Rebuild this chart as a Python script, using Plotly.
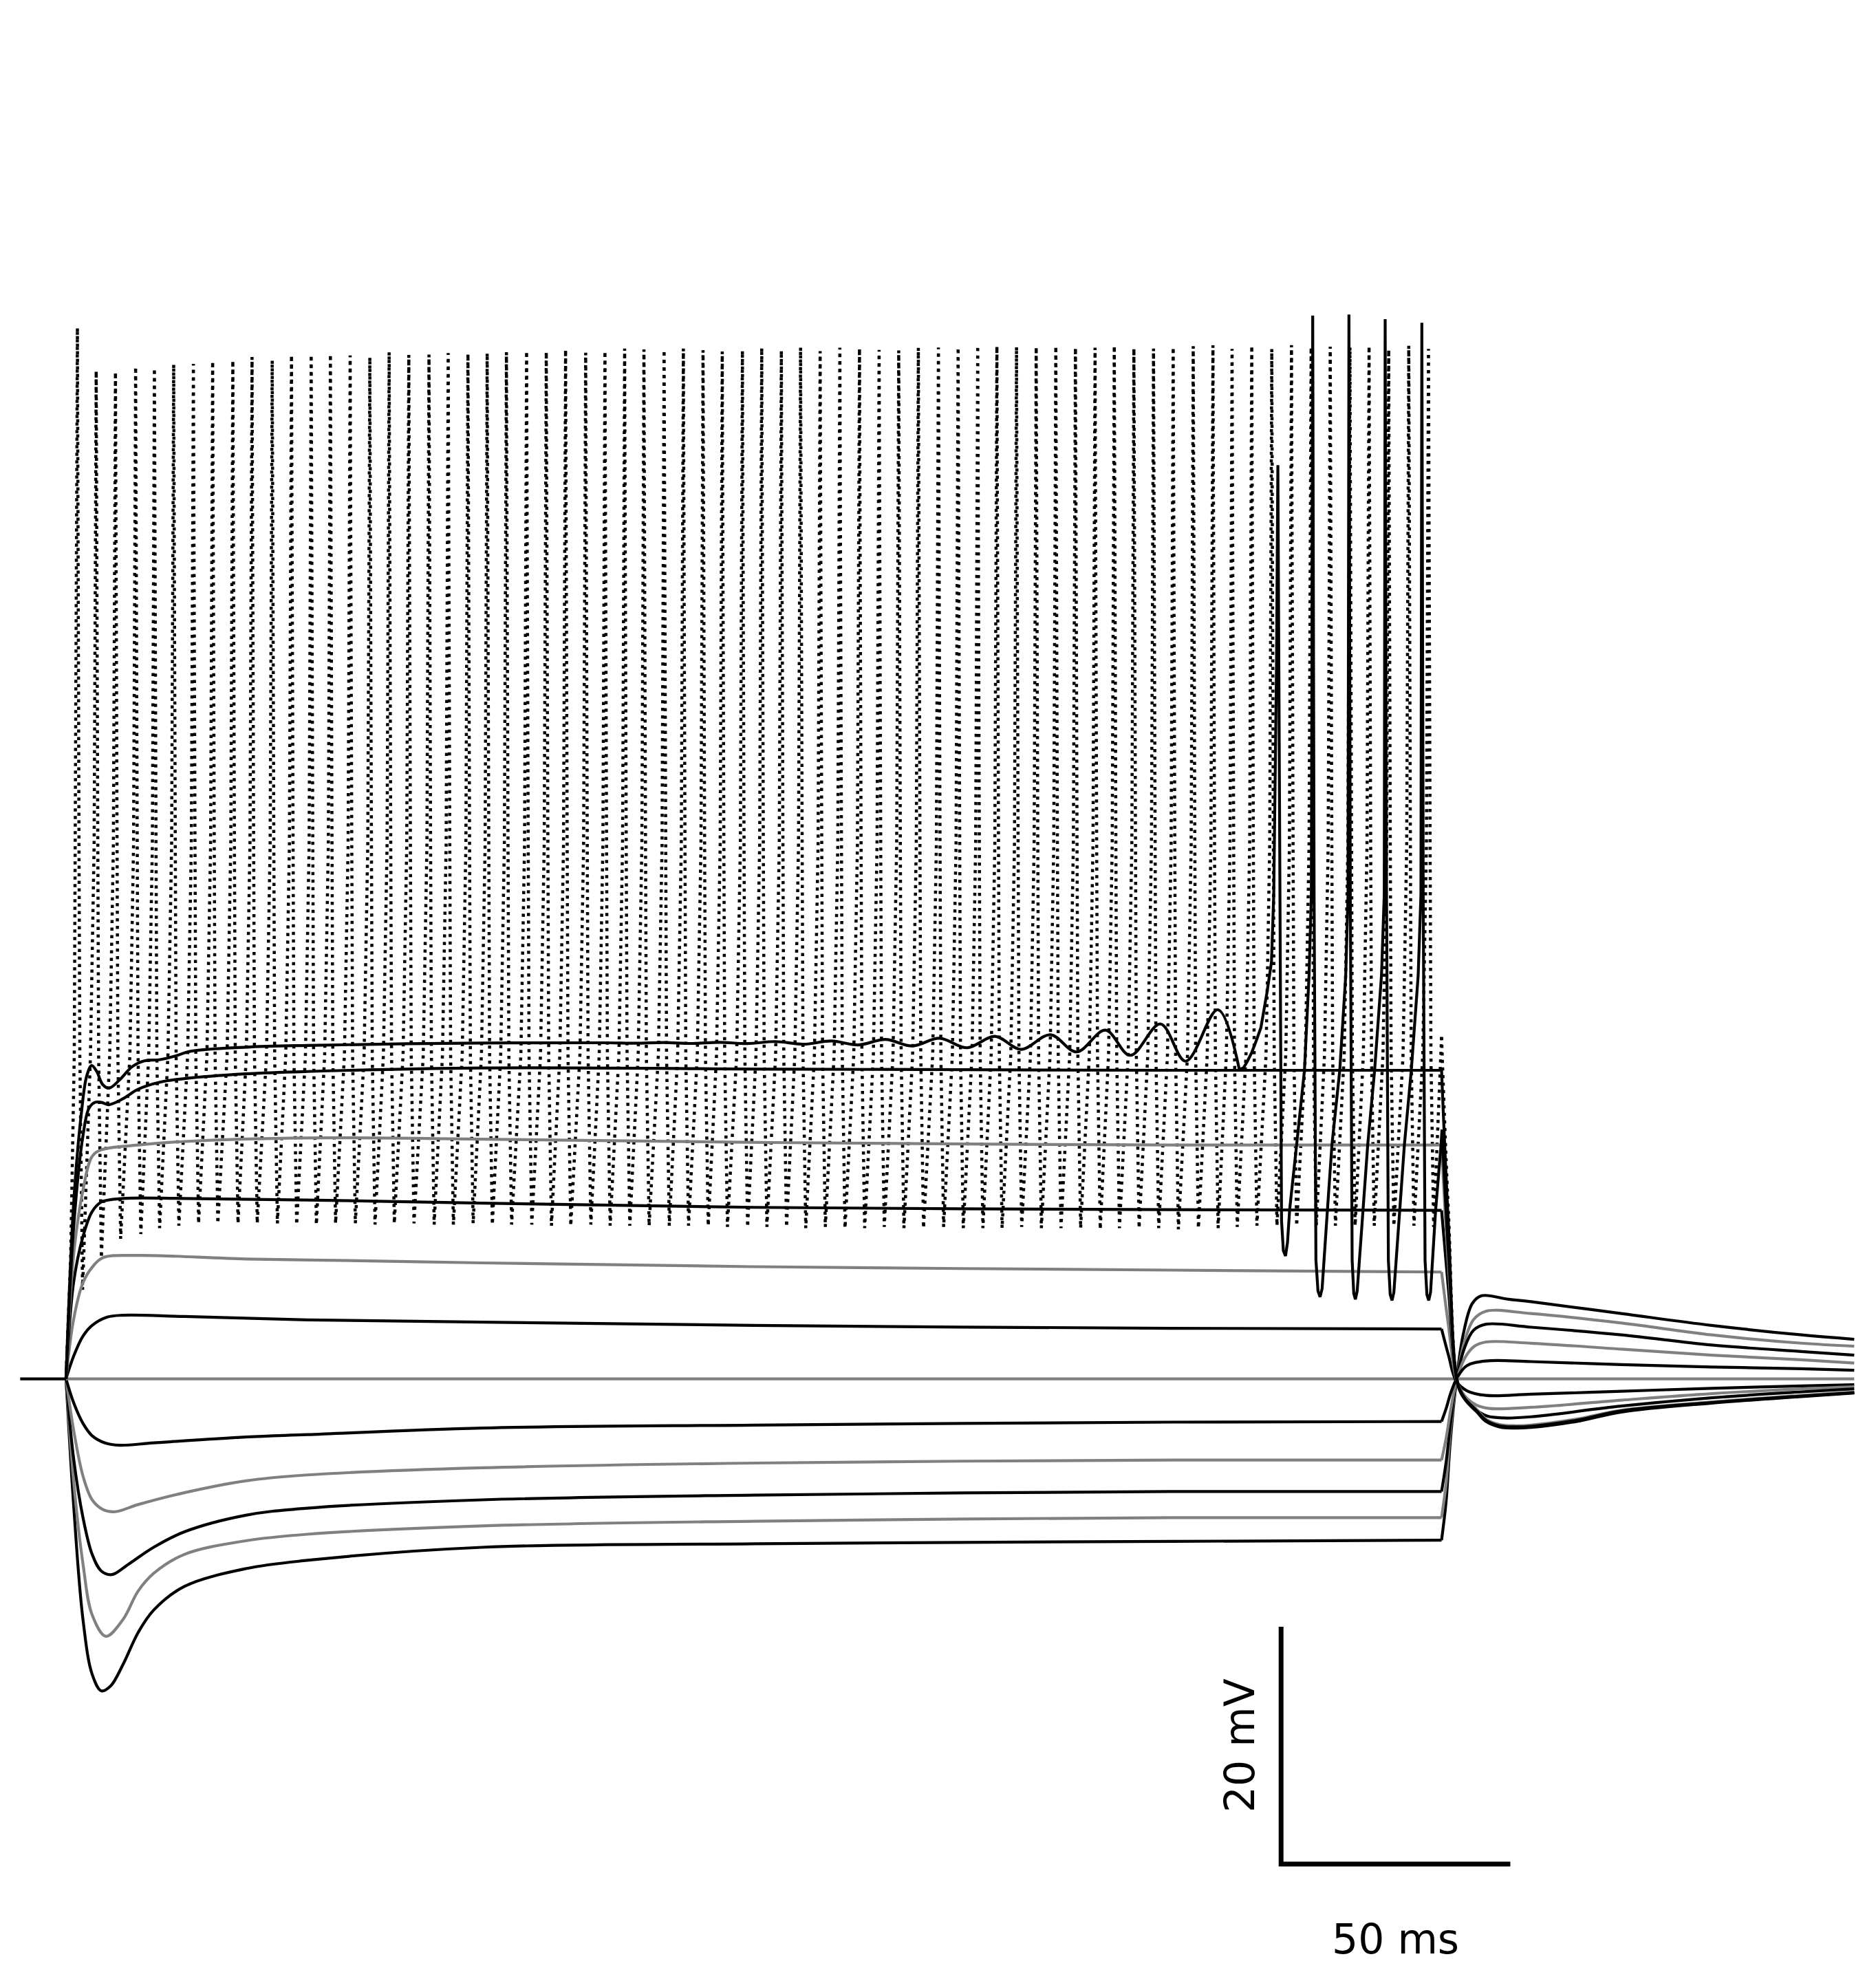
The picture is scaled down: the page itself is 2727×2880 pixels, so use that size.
import plotly.graph_objects as go

# ---------------- data (time in ms, voltage as deflection from rest in mV) ----------------
BLACK = "#000000"
GRAY = "#808080"

pre_t = [-10.0, 0.0]
pre_v = [0.0, 0.0]

# hyperpolarising steps
tr12_stim_t = [0, 1.65, 3.7, 5.7, 7.7, 9.7, 12.4, 15.7, 19.1, 25.8, 39.2, 52.6, 90.7, 150, 241, 300]
tr12_stim_v = [0, -10.6, -20.3, -24.9, -26.3, -25.9, -24.1, -21.4, -19.5, -17.5, -16.0, -15.3, -14.2, -13.9, -13.7, -13.6]
tr12_post_t = [300, 301, 301.9, 303.2, 304.7, 306.7, 308.7, 314.6, 319.5, 339.2, 358.9, 378.5, 390]
tr12_post_v = [-13.6, -10.3, -5.3, -0.3, 3.7, 6.35, 7.0, 6.7, 6.5, 5.5, 4.5, 3.7, 3.33]

tr11_stim_t = [0, 1.65, 3.7, 5.7, 8.7, 12.4, 15.7, 19.1, 25.8, 39.2, 52.6, 90.7, 150, 241, 300]
tr11_stim_v = [0, -8.6, -15.6, -19.9, -21.7, -20.3, -17.9, -16.4, -14.8, -13.65, -13.1, -12.4, -12.0, -11.7, -11.7]
tr11_post_t = [300, 301, 301.9, 303.2, 304.9, 307, 309.7, 319.5, 339.2, 358.9, 378.5, 390]
tr11_post_v = [-11.7, -8.8, -4.5, -0.3, 3.0, 5.0, 5.7, 5.5, 4.7, 3.7, 3.0, 2.75]

tr10_stim_t = [0, 1.65, 3.7, 5.7, 7.7, 10.0, 13.7, 19.1, 25.8, 39.2, 52.6, 90.7, 150, 241, 300]
tr10_stim_v = [0, -6.7, -11.7, -14.8, -16.2, -16.5, -15.6, -14.2, -12.9, -11.5, -10.9, -10.2, -9.8, -9.5, -9.5]
tr10_post_t = [300, 301, 302, 303.2, 305, 307, 309.7, 319.5, 339.2, 358.9, 378.5, 390]
tr10_post_v = [-9.5, -7.0, -3.6, -0.2, 2.6, 4.1, 4.6, 4.35, 3.7, 2.85, 2.3, 2.0]

tr9_stim_t = [0, 1.65, 3.7, 5.7, 8.0, 10.7, 15.7, 25.8, 39.2, 52.6, 90.7, 150, 241, 300]
tr9_stim_v = [0, -4.3, -8.2, -10.2, -11.0, -11.2, -10.6, -9.6, -8.6, -8.1, -7.5, -7.1, -6.85, -6.85]
tr9_post_t = [300, 301, 302, 303.3, 305, 307, 309.7, 319.5, 339.2, 358.9, 378.5, 390]
tr9_post_v = [-6.85, -5.0, -2.6, -0.1, 1.7, 2.7, 3.1, 3.0, 2.5, 2.0, 1.6, 1.33]

tr8_stim_t = [0, 1.65, 3.7, 5.7, 8.5, 11.7, 19.1, 39.2, 52.6, 90.7, 150, 241, 300]
tr8_stim_v = [0, -2.0, -3.76, -4.8, -5.4, -5.6, -5.4, -4.9, -4.7, -4.15, -3.9, -3.65, -3.6]
tr8_post_t = [300, 301, 302, 303.4, 305.5, 309.7, 319.5, 339.2, 358.9, 378.5, 390]
tr8_post_v = [-3.6, -2.5, -1.2, 0.1, 1.1, 1.5, 1.45, 1.2, 1.0, 0.85, 0.72]

# zero-current trace
tr7_t = [0, 300, 390]
tr7_v = [0.0, 0.0, 0.0]

# depolarising, sub-threshold steps
tr6_stim_t = [0, 1.65, 3.7, 5.7, 9.0, 12.4, 25.8, 52.6, 90.7, 150, 241, 300]
tr6_stim_v = [0, 1.9, 3.6, 4.5, 5.2, 5.36, 5.25, 4.97, 4.78, 4.5, 4.26, 4.2]
tr6_post_t = [300, 301.5, 303.2, 305.5, 309.7, 319.5, 339.2, 358.9, 378.5, 390]
tr6_post_v = [4.2, 2.0, -0.2, -1.0, -1.4, -1.3, -1.05, -0.8, -0.6, -0.5]

tr5_stim_t = [0, 1.65, 3.7, 5.7, 8.0, 15.7, 39.2, 66.0, 90.7, 150, 241, 300]
tr5_stim_v = [0, 5.0, 8.1, 9.4, 10.2, 10.4, 10.1, 9.94, 9.77, 9.45, 9.16, 9.0]
tr5_post_t = [300, 301.5, 303.2, 305, 307.5, 310.4, 319.5, 339.2, 358.9, 378.5, 390]
tr5_post_v = [9.0, 4.5, 0.0, -1.4, -2.2, -2.5, -2.4, -1.8, -1.25, -0.85, -0.67]

tr4_stim_t = [0, 1.65, 3.7, 5.7, 7.7, 12.4, 25.8, 52.6, 90.7, 150, 241, 300]
tr4_stim_v = [0, 8.1, 12.0, 14.1, 14.9, 15.2, 15.2, 15.07, 14.8, 14.45, 14.25, 14.2]
tr4_post_t = [300, 301.5, 303.3, 305, 307.5, 310, 313.6, 319.5, 339.2, 358.9, 378.5, 390]
tr4_post_v = [14.2, 7.5, 0.0, -1.6, -2.6, -3.15, -3.3, -3.2, -2.3, -1.6, -1.1, -0.85]

tr3_stim_t = [0, 1.65, 3.7, 5.7, 7.7, 15.7, 25.8, 52.6, 90.7, 158, 241, 300]
tr3_stim_v = [0, 10.4, 15.9, 18.75, 19.3, 19.7, 20.0, 20.3, 20.2, 19.9, 19.7, 19.7]
tr3_post_t = [300, 301.5, 303.6, 305.2, 307.7, 309.7, 312.6, 315.6, 319.5, 329.4, 339.2, 358.9, 378.5, 390]
tr3_post_v = [19.7, 9.5, -0.5, -1.6, -2.6, -3.4, -3.85, -3.95, -3.9, -3.4, -2.65, -1.95, -1.4, -1.12]

tr2_stim_t = [0, 1.65, 3.7, 5.0, 6.3, 7.7, 9.3, 12.4, 15.7, 20.5, 25.8, 39.2, 52.6, 90.7, 158, 241, 300]
tr2_stim_v = [0, 12.7, 20.5, 22.8, 23.3, 23.3, 23.1, 23.6, 24.4, 25.0, 25.3, 25.7, 25.9, 26.2, 26.1, 26.0, 26.0]
tr2_post_t = [300, 301.5, 303.6, 305.2, 307.7, 309.7, 312.6, 315.6, 319.5, 329.4, 339.2, 358.9, 378.5, 390]
tr2_post_v = [26.0, 13.0, -0.5, -1.7, -2.7, -3.5, -3.95, -4.05, -4.0, -3.5, -2.7, -2.0, -1.45, -1.16]

# threshold step: sub-threshold oscillations then a spike train
tr1_osc_t = [0, 1.65, 3.35, 4.5, 5.6, 6.7, 8.0, 9.4, 11.7, 14.4, 17.1, 20.5, 23.8, 27.1, 39.2, 52.6, 90.7,
             118.0, 124.2, 130.4, 136.5, 142.5, 148.6, 154.7, 160.9, 166.9, 172.8, 178.7, 184.6, 190.5,
             196.5, 202.6, 208.3, 214.7, 220.4, 226.7, 232.1, 238.7, 244.2, 251.2, 255.9]
tr1_osc_v = [0, 14.7, 22.4, 25.5, 26.4, 25.9, 24.8, 24.5, 25.2, 26.3, 26.8, 26.9, 27.2, 27.6, 27.95, 28.1, 28.3,
             28.32, 28.28, 28.34, 28.26, 28.36, 28.25, 28.42, 28.2, 28.47, 28.14, 28.6, 28.05, 28.7,
             27.9, 28.86, 27.76, 29.0, 27.55, 29.38, 27.26, 29.9, 26.77, 31.1, 26.06]
tr1_spk_t = [255.9, 256.8, 257.7, 258.6, 259.5, 260.6, 261.9, 262.9, 263.4, 264.0, 264.3,
             264.76, 265.1, 265.5, 265.97, 266.4, 266.88, 268.4, 270.1, 271.1, 271.6, 271.9,
             272.2, 272.6, 273.05, 273.5, 273.95, 275.1, 276.1, 277.8, 279.1, 279.6, 279.8,
             280.1, 280.5, 280.85, 281.2, 281.6, 282.8, 283.9, 285.4, 286.9, 287.5, 287.7,
             288.0, 288.4, 288.8, 289.2, 289.6, 290.8, 291.9, 293.4, 294.9, 295.5, 295.7,
             296.0, 296.4, 296.8, 297.2, 297.6, 298.7, 299.9, 300.1]
tr1_spk_v = [26.06, 26.2, 26.8, 27.5, 28.4, 29.6, 32.5, 35.1, 40.8, 60.0, 77.0,
             40.8, 13.3, 10.8, 10.35, 11.5, 14.3, 19.75, 26.0, 34.0, 40.8, 89.6,
             40.8, 10.0, 7.4, 6.9, 7.6, 14.2, 19.75, 26.0, 34.0, 40.8, 89.7,
             40.8, 10.0, 7.2, 6.7, 7.4, 14.2, 19.75, 26.0, 34.0, 40.8, 89.3,
             40.8, 10.0, 7.1, 6.6, 7.3, 14.2, 19.75, 26.0, 34.0, 40.8, 89.0,
             40.8, 10.0, 7.1, 6.6, 7.3, 14.2, 19.75, 21.0]
tr1_post_t = [300.1, 301.6, 303.6, 305.2, 307.7, 309.7, 312.6, 315.6, 319.5, 329.4, 339.2, 358.9, 378.5, 390]
tr1_post_v = [21.0, 10.0, -0.6, -1.8, -2.8, -3.6, -4.05, -4.15, -4.1, -3.6, -2.8, -2.05, -1.5, -1.2]

# fast-spiking (dotted) trace
fs_onset_t = [0.0, 1.0, 1.8]
fs_onset_v = [0.0, 10.0, 27.3]
fs_spike_t = [2.48, 6.58, 10.78, 15.18, 19.28, 23.48, 27.78, 31.98, 36.38, 40.57,
              44.97, 49.17, 53.47, 57.66, 61.97, 66.26, 70.47, 74.76, 79.16, 83.35,
              87.66, 91.85, 96.05, 100.45, 104.74, 108.95, 113.33, 117.54, 121.83, 126.04,
              130.44, 134.64, 138.93, 143.12, 147.52, 151.73, 156.01, 160.20, 164.47, 168.77,
              173.05, 177.33, 181.61, 185.89, 190.27, 194.56, 198.84, 203.02, 207.30, 211.59,
              215.87, 220.15, 224.43, 228.62, 232.90, 237.18, 241.47, 245.84, 250.14, 254.31,
              258.60, 262.97, 267.27, 271.55, 275.72, 280.02, 284.19, 288.47, 292.85, 297.15]
fs_spike_v = [88.57, 84.94, 84.84, 85.28, 85.15, 85.48, 85.53, 85.75, 85.82, 86.11,
              85.82, 86.27, 86.29, 86.34, 86.25, 86.09, 86.52, 86.29, 86.32, 86.44,
              86.38, 86.44, 86.52, 86.60, 86.54, 86.73, 86.48, 86.60, 86.83, 86.75,
              86.69, 86.83, 86.69, 86.58, 86.64, 86.87, 86.64, 86.91, 86.60, 86.89,
              86.83, 86.71, 86.67, 86.89, 86.91, 86.91, 87.06, 87.02, 86.96, 86.96,
              87.02, 86.89, 86.89, 87.06, 86.83, 86.83, 86.93, 87.02, 87.10, 86.79,
              87.06, 86.79, 87.12, 86.93, 86.98, 86.93, 87.02, 86.73, 87.06, 86.79]
fs_trough_v = [7.5, 10.2, 11.8, 12.2, 12.7, 12.9, 13.1, 13.1, 13.1, 13.1,
               13.1, 13.0, 13.0, 13.1, 13.1, 13.0, 13.1, 13.1, 13.0, 13.0,
               13.1, 13.0, 13.0, 13.0, 12.9, 12.9, 13.0, 12.9, 12.9, 12.9,
               12.9, 12.9, 12.9, 12.8, 12.8, 12.8, 12.8, 12.7, 12.8, 12.7,
               12.7, 12.8, 12.7, 12.7, 12.8, 12.7, 12.7, 12.7, 12.8, 12.7,
               12.7, 12.7, 12.6, 12.7, 12.7, 12.7, 12.6, 12.7, 12.7, 12.8,
               12.9, 12.9, 12.9, 12.9, 12.9, 12.9, 12.9, 12.9, 12.9, 12.8]
# spike waveform: (ms after peak, mV) on the fall,
# (ms before next peak, mV) on the rise
FS_FALL_DT = [0.35, 0.53]
FS_FALL_V = [45.0, 27.3]
FS_TROUGH_DT = 1.13
FS_RISE_DT = [1.25, 0.45]
FS_RISE_V = [27.3, 45.0]
fs_post_t = [300.0, 301.5, 303.6, 305.2, 307.7, 309.7, 312.6, 315.6, 319.5, 329.4, 339.2, 358.9, 378.5, 390]
fs_post_v = [28.8, 14.0, -0.5, -1.7, -2.7, -3.5, -3.95, -4.05, -4.0, -3.5, -2.7, -2.0, -1.45, -1.16]

# scale bar
sb_t = [315.0, 265.0, 265.0]
sb_v = [-40.9, -40.9, -20.9]
sb_label_v = "20 mV"
sb_label_t = "50 ms"

# ---------------- figure ----------------
fig = go.Figure()

def add(t, v, color, shape="spline", dash=None, width=4.2):
    line = dict(color=color, width=width, shape=shape)
    if shape == "spline":
        line["smoothing"] = 1.0
    if dash:
        line["dash"] = dash
    fig.add_trace(go.Scatter(x=t, y=v, mode="lines", line=line, hoverinfo="skip", showlegend=False))

# dotted fast-spiking trace assembled from read spike times, peaks and troughs
fs_t = list(fs_onset_t)
fs_v = list(fs_onset_v)
n = len(fs_spike_t)
for k in range(n):
    tk = fs_spike_t[k]
    fs_t.append(tk)
    fs_v.append(fs_spike_v[k])
    for dt, vv in zip(FS_FALL_DT, FS_FALL_V):
        fs_t.append(tk + dt)
        fs_v.append(vv)
    fs_t.append(tk + FS_TROUGH_DT)
    fs_v.append(fs_trough_v[k])
    if k < n - 1:
        for dt, vv in zip(FS_RISE_DT, FS_RISE_V):
            fs_t.append(fs_spike_t[k + 1] - dt)
            fs_v.append(vv)
fs_t.append(fs_post_t[0])
fs_v.append(fs_post_v[0])
DOT = "4.5px,6.5px"
add(fs_t, fs_v, BLACK, shape="linear", dash=DOT, width=4.5)
add(fs_post_t, fs_post_v, BLACK, dash=DOT, width=4.5)

hyper = [
    (tr12_stim_t, tr12_stim_v, tr12_post_t, tr12_post_v, BLACK),
    (tr11_stim_t, tr11_stim_v, tr11_post_t, tr11_post_v, GRAY),
    (tr10_stim_t, tr10_stim_v, tr10_post_t, tr10_post_v, BLACK),
    (tr9_stim_t, tr9_stim_v, tr9_post_t, tr9_post_v, GRAY),
    (tr8_stim_t, tr8_stim_v, tr8_post_t, tr8_post_v, BLACK),
]
for st, sv, pt, pv, c in hyper:
    add(st, sv, c)
    add(pt, pv, c)

add(tr7_t, tr7_v, GRAY, shape="linear")

depol = [
    (tr6_stim_t, tr6_stim_v, tr6_post_t, tr6_post_v, BLACK),
    (tr5_stim_t, tr5_stim_v, tr5_post_t, tr5_post_v, GRAY),
    (tr4_stim_t, tr4_stim_v, tr4_post_t, tr4_post_v, BLACK),
    (tr3_stim_t, tr3_stim_v, tr3_post_t, tr3_post_v, GRAY),
    (tr2_stim_t, tr2_stim_v, tr2_post_t, tr2_post_v, BLACK),
]
for st, sv, pt, pv, c in depol:
    add(st, sv, c)
    add(pt, pv, c)

add(tr1_osc_t, tr1_osc_v, BLACK)
add(tr1_spk_t, tr1_spk_v, BLACK, shape="linear")
add(tr1_post_t, tr1_post_v, BLACK)

add(pre_t, pre_v, BLACK, shape="linear")

add(sb_t, sb_v, BLACK, shape="linear", width=7)

fig.add_annotation(x=255.9, y=-30.9, text=sb_label_v, textangle=-90, showarrow=False,
                   xref="x", yref="y", xanchor="center", yanchor="middle",
                   font=dict(family="DejaVu Sans", size=60, color=BLACK))
fig.add_annotation(x=289.9, y=-47.2, text=sb_label_t, showarrow=False,
                   xref="x", yref="y", xanchor="center", yanchor="middle",
                   font=dict(family="DejaVu Sans", size=60, color=BLACK))

fig.update_xaxes(range=[-14.40, 394.75], visible=False, showgrid=False, zeroline=False)
fig.update_yaxes(range=[-50.75, 116.2], visible=False, showgrid=False, zeroline=False)
fig.update_layout(width=2727, height=2880, margin=dict(l=0, r=0, t=0, b=0, pad=0),
                  paper_bgcolor="white", plot_bgcolor="white", showlegend=False)

fig.write_html("out.html")
